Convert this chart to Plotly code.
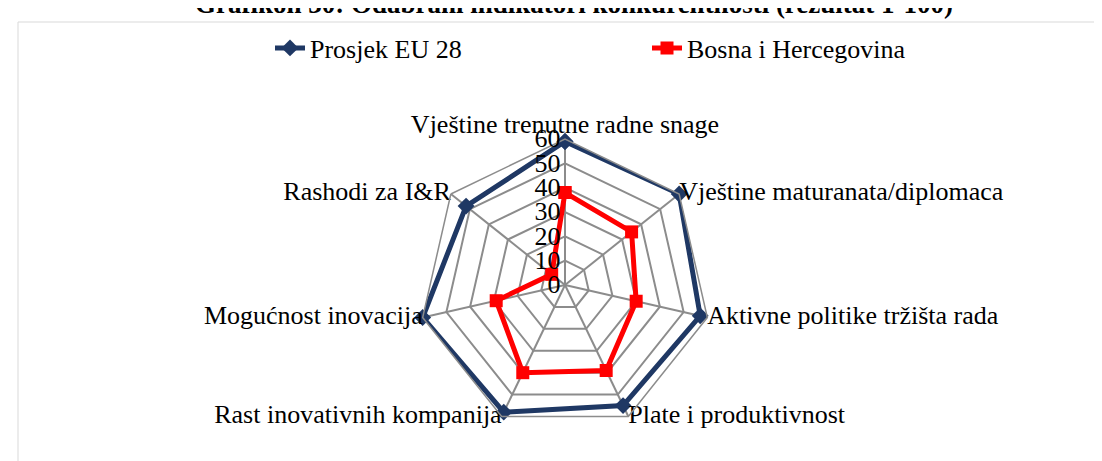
import plotly.graph_objects as go

W, H = 1102, 461

categories = [
    "Vještine trenutne radne snage",
    "Vještine maturanata/diplomaca",
    "Aktivne politike tržišta rada",
    "Plate i produktivnost",
    "Rast inovativnih kompanija",
    "Mogućnost inovacija",
    "Rashodi za I&R",
]
eu_values = [59, 60, 57, 55, 58, 60, 52]
bih_values = [38, 35, 30, 39, 40, 29, 7]
series_names = ["Prosjek EU 28", "Bosna i Hercegovina"]
tick_values = [0, 10, 20, 30, 40, 50, 60]
axis_max = 60
title_text = "Grafikon 30: Odabrani indikatori konkurentnosti (rezultat 1-100)"

FONT = "Liberation Serif"
NAVY = "#1F3864"
RED = "#FF0000"
GRID = "#8C8C8C"
FS = 26

def closed(v):
    return list(v) + [v[0]]

fig = go.Figure()
fig.add_trace(go.Scatterpolar(
    r=closed(eu_values), theta=closed(categories), name=series_names[0],
    mode="lines+markers",
    line=dict(color=NAVY, width=5),
    marker=dict(symbol="diamond", size=13, color=NAVY),
))
fig.add_trace(go.Scatterpolar(
    r=closed(bih_values), theta=closed(categories), name=series_names[1],
    mode="lines+markers",
    line=dict(color=RED, width=5),
    marker=dict(symbol="square", size=13, color=RED),
))
# category labels placed at the outer ring through the polar scale
label_positions = ["top center", "middle right", "middle right", "middle right",
                   "middle left", "middle left", "middle left"]
fig.add_trace(go.Scatterpolar(
    r=[axis_max] * len(categories), theta=categories, mode="text",
    text=categories, textposition=label_positions,
    textfont=dict(family=FONT, size=FS, color="black"),
    showlegend=False, hoverinfo="skip", cliponaxis=False,
))

cx, cy, R = 557, 277, 146
fig.update_layout(
    width=W, height=H,
    margin=dict(l=0, r=0, t=0, b=0),
    paper_bgcolor="white",
    plot_bgcolor="white",
    font=dict(family=FONT, size=FS, color="black"),
    polar=dict(
        domain=dict(x=[(cx - R) / W, (cx + R) / W], y=[(H - cy - R) / H, (H - cy + R) / H]),
        gridshape="linear",
        bgcolor="white",
        radialaxis=dict(
            range=[0, axis_max], tickvals=tick_values, angle=90, tickangle=90,
            side="counterclockwise",
            showline=False, ticks="", gridcolor=GRID, gridwidth=1.5,
            tickfont=dict(family=FONT, size=FS, color="black"),
        ),
        angularaxis=dict(
            direction="clockwise", rotation=90,
            showline=True, linecolor=GRID, linewidth=1.5,
            gridcolor=GRID, gridwidth=1.5, ticks="", showticklabels=False,
        ),
    ),
    showlegend=True,
    legend=dict(
        orientation="h", x=262 / W, y=1 - 40 / H, xanchor="left", yanchor="middle",
        entrywidth=332, font=dict(family=FONT, size=FS, color="black"),
        bgcolor="rgba(0,0,0,0)", itemwidth=30,
    ),
    shapes=[dict(
        type="rect", xref="paper", yref="paper",
        x0=10 / W, x1=1.01, y0=-0.01, y1=1 - 14 / H,
        line=dict(color="#D9D9D9", width=1), fillcolor="rgba(0,0,0,0)", layer="below",
    )],
    annotations=[dict(
        text="<b>" + title_text + "</b>", xref="paper", yref="paper",
        x=566 / W, y=1 + 4 / H, xanchor="center", yanchor="middle",
        showarrow=False, font=dict(family=FONT, size=27, color="black"),
    )],
)

fig.write_html("out.html")
